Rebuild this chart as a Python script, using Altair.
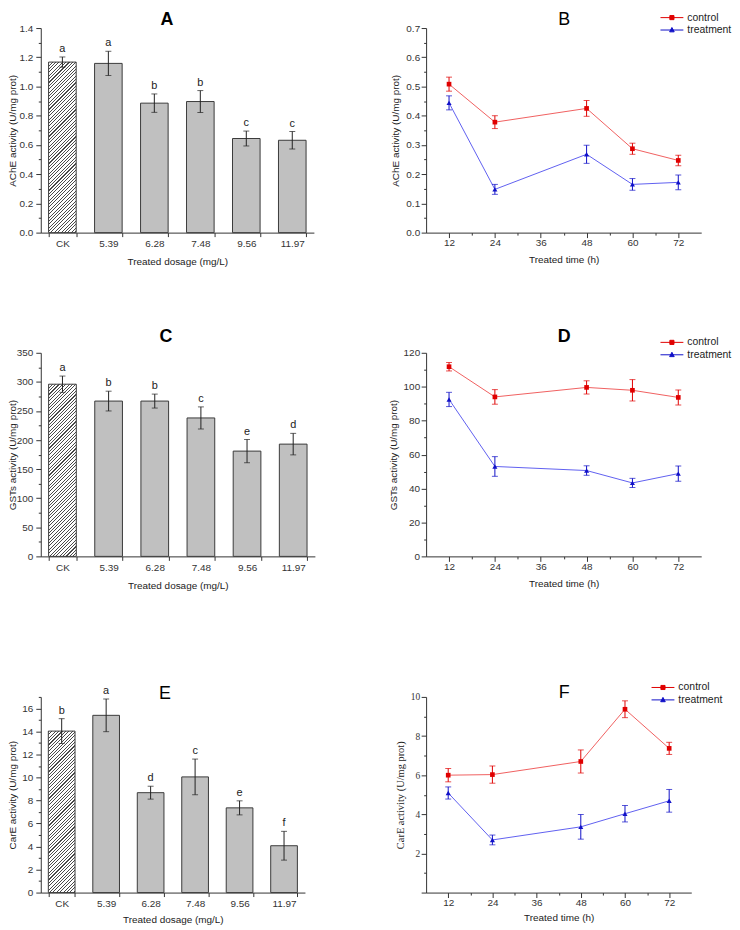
import math
import altair as alt
import pandas as pd

# ---------------- data ----------------
doses = ["CK", "5.39", "6.28", "7.48", "9.56", "11.97"]

ache_dose_mean = [1.167, 1.158, 0.886, 0.897, 0.644, 0.632]
ache_dose_sd = [0.035, 0.083, 0.063, 0.075, 0.051, 0.060]
ache_dose_letters = ["a", "a", "b", "b", "c", "c"]

gst_dose_mean = [296, 267, 267, 238, 181, 193]
gst_dose_sd = [14, 17, 12, 19, 20, 18.5]
gst_dose_letters = ["a", "b", "b", "c", "e", "d"]

care_dose_mean = [14.03, 15.40, 8.68, 10.05, 7.36, 4.07]
care_dose_sd = [1.08, 1.42, 0.56, 1.55, 0.61, 1.25]
care_dose_letters = ["b", "a", "d", "c", "e", "f"]

times = [12, 24, 48, 60, 72]
series_names = ["control", "treatment"]

ache_ctrl = [0.508, 0.378, 0.425, 0.287, 0.247]
ache_ctrl_sd = [0.024, 0.022, 0.027, 0.019, 0.018]
ache_trt = [0.444, 0.148, 0.268, 0.165, 0.172]
ache_trt_sd = [0.024, 0.017, 0.031, 0.020, 0.025]

gst_ctrl = [111.8, 94.0, 99.6, 97.9, 93.7]
gst_ctrl_sd = [2.5, 4.3, 3.9, 6.3, 4.4]
gst_trt = [92.5, 53.0, 50.6, 43.3, 48.8]
gst_trt_sd = [4.2, 5.8, 2.8, 2.7, 4.5]

care_ctrl = [6.00, 6.03, 6.70, 9.37, 7.37]
care_ctrl_sd = [0.34, 0.44, 0.59, 0.43, 0.31]
care_trt = [5.09, 2.69, 3.36, 4.03, 4.69]
care_trt_sd = [0.31, 0.25, 0.63, 0.42, 0.58]

panel_titles = ["A", "B", "C", "D", "E", "F"]

# axis tick values (major + minor)
ache_dose_ticks = [0.0, 0.1, 0.2, 0.3, 0.4, 0.5, 0.6, 0.7, 0.8, 0.9, 1.0, 1.1, 1.2, 1.3, 1.4]
gst_dose_ticks = [0, 25, 50, 75, 100, 125, 150, 175, 200, 225, 250, 275, 300, 325, 350]
care_dose_ticks = [0, 1, 2, 3, 4, 5, 6, 7, 8, 9, 10, 11, 12, 13, 14, 15, 16, 17]
ache_time_ticks = [0.0, 0.05, 0.1, 0.15, 0.2, 0.25, 0.3, 0.35, 0.4, 0.45, 0.5, 0.55, 0.6, 0.65, 0.7]
gst_time_ticks = [0, 10, 20, 30, 40, 50, 60, 70, 80, 90, 100, 110, 120]
care_time_ticks = [0, 1, 2, 3, 4, 5, 6, 7, 8, 9, 10]
time_ticks = [12, 18, 24, 30, 36, 42, 48, 54, 60, 66, 72]

# ---------------- style ----------------
SANS = "Liberation Sans"
SERIF = "Liberation Serif"
HEAVY = "Liberation Sans"
AX = "#333333"
RED = "#e00000"
RED_LINE = "#f06060"
BLUE = "#1010c8"
BLUE_LINE = "#6060f0"

PAD_IN = 0.4
PAD_OUT = 0.17


def major_test(step, hide_zero=False):
    t = f"abs(datum.value / {step} - round(datum.value / {step})) < 0.001"
    if hide_zero:
        t = f"({t}) && datum.value > 0"
    return t


def y_axis(title, step, fmt, font=SANS, hide_zero=False, left=True):
    test = major_test(step, hide_zero)
    plain = major_test(step)
    kw = dict(
        title=title,
        labelExpr=f"({test}) ? format(datum.value, '{fmt}') : ''",
        tickSize={"condition": {"test": plain, "value": 5}, "value": 2.5},
        labelFont=font,
        titleFont=font,
        labelFontSize=10 if font == SANS else 9.5,
        titleFontSize=10 if font == SANS else 10.5,
        labelPadding=3 if left else 1.5,
        titlePadding=1 if left else 5,
        labelOverlap=False,
        labelFlush=False,
    )
    if left:
        kw["minExtent"] = 22
        kw["maxExtent"] = 22
    return kw


def hatch_gradient(w_px, h_px):
    period = 3.4
    dark = 1.1
    total = w_px + h_px
    n = int(math.ceil(total / period))
    c = total / (w_px ** 2 + h_px ** 2)
    stops = []
    last = 0.0
    for i in range(n):
        for pos, col in [(i * period, "#4a4a4a"), (i * period + dark, "#4a4a4a"),
                         (i * period + dark, "#ffffff"), ((i + 1) * period, "#ffffff")]:
            off = round(min(pos / total, 1.0), 4)
            off = max(off, last)
            last = off
            stops.append(alt.GradientStop(offset=off, color=col))
    return alt.LinearGradient(gradient="linear", x1=0, y1=0, x2=round(c * w_px, 5), y2=round(c * h_px, 5),
                              stops=stops)


def title_layer(text, font, weight, tx, ty):
    return alt.Chart(pd.DataFrame({"label": [text]})).mark_text(
        font=font, fontWeight=weight, fontSize=18, color="#000000", align="center", baseline="top"
    ).encode(text="label:N", x=alt.value(tx), y=alt.value(ty))


def bar_panel(mean, sd, letters, ticks, ymax, step, fmt, ytitle, title, title_font, title_weight,
              tx, ty, w, h, xtitle_pad):
    df = pd.DataFrame({
        "dose": doses,
        "mean": mean,
        "lo": [m - s for m, s in zip(mean, sd)],
        "hi": [m + s for m, s in zip(mean, sd)],
        "letter": letters,
    })
    base = alt.Chart(df)
    xax = alt.Axis(title="Treated dosage (mg/L)", labelAngle=0, tickBand="extent", tickSize=4,
                   labelPadding=2, titlePadding=xtitle_pad, labelFont=SANS, titleFont=SANS,
                   labelFontSize=10, titleFontSize=10)
    xs = alt.Scale(paddingInner=PAD_IN, paddingOuter=PAD_OUT)
    ys = alt.Scale(domain=[0, ymax], nice=False, zero=True)
    yax = alt.Axis(values=ticks, **y_axis(ytitle, step, fmt))
    X = alt.X("dose:N", sort=doses, scale=xs, axis=xax)

    step_px = w / (len(doses) - PAD_IN + 2 * PAD_OUT)
    bw = step_px * (1 - PAD_IN)
    ck_h = mean[0] / ymax * h

    bars = base.transform_filter(alt.datum.dose != "CK").mark_bar(
        fill="#c0c0c0", stroke="#3a3a3a", strokeWidth=1
    ).encode(x=X, y=alt.Y("mean:Q", scale=ys, axis=yax))
    ck = base.transform_filter(alt.datum.dose == "CK").mark_bar(
        fill=hatch_gradient(bw, ck_h), stroke="#3a3a3a", strokeWidth=1
    ).encode(x=X, y=alt.Y("mean:Q", scale=ys, axis=yax))
    rule = base.mark_rule(color="#222222", strokeWidth=1).encode(
        x=X, y=alt.Y("lo:Q", scale=ys, axis=yax), y2="hi:Q")
    cap_lo = base.mark_tick(color="#222222", orient="horizontal", size=6, thickness=1).encode(
        x=X, y=alt.Y("lo:Q", scale=ys, axis=yax))
    cap_hi = base.mark_tick(color="#222222", orient="horizontal", size=6, thickness=1).encode(
        x=X, y=alt.Y("hi:Q", scale=ys, axis=yax))
    txt = base.mark_text(font=SANS, fontSize=11, color="#222222", baseline="alphabetic", dy=-5).encode(
        x=X, y=alt.Y("hi:Q", scale=ys, axis=yax), text="letter:N")
    ttl = title_layer(title, title_font, title_weight, tx, ty)

    return alt.layer(bars, ck, rule, cap_lo, cap_hi, txt, ttl).properties(width=w, height=h)


legend_paths = [
    "M-2.5,0H2.5M-0.45,-0.45H0.45V0.45H-0.45Z",
    "M-2.5,0H2.5M0,-0.55L0.5,0.4H-0.5Z",
]


def line_panel(ctrl, ctrl_sd, trt, trt_sd, ticks, ymax, step, fmt, ytitle, yfont, hide_zero,
               title, title_font, title_weight, tx, ty, lx, ly, w, h, xtitle_pad):
    rows = []
    for s, vals, sds in [("control", ctrl, ctrl_sd), ("treatment", trt, trt_sd)]:
        for t, v, e in zip(times, vals, sds):
            rows.append({"series": s, "time": t, "value": v, "lo": v - e, "hi": v + e})
    df = pd.DataFrame(rows)
    base = alt.Chart(df)
    xs = alt.Scale(domain=[6, 78], nice=False, zero=False)
    xax = alt.Axis(title="Treated time (h)", values=time_ticks,
                   labelExpr="datum.value % 12 === 0 ? format(datum.value, 'd') : ''",
                   tickSize={"condition": {"test": "datum.value % 12 === 0", "value": 5}, "value": 2.5},
                   labelPadding=0, titlePadding=xtitle_pad, labelFont=SANS, titleFont=SANS,
                   labelFontSize=10, titleFontSize=10, labelOverlap=False, labelFlush=False)
    ys = alt.Scale(domain=[0, ymax], nice=False, zero=True)
    yax = alt.Axis(values=ticks, **y_axis(ytitle, step, fmt, font=yfont, hide_zero=hide_zero, left=False))
    X = alt.X("time:Q", scale=xs, axis=xax)

    layers = []
    for s, lc, mc, shp, sz in [("control", RED_LINE, RED, "square", 22),
                               ("treatment", BLUE_LINE, BLUE, "triangle-up", 26)]:
        b = base.transform_filter(alt.datum.series == s)
        layers.append(b.mark_line(color=lc, strokeWidth=1).encode(
            x=X, y=alt.Y("value:Q", scale=ys, axis=yax)))
        layers.append(b.mark_rule(color=mc, strokeWidth=1).encode(
            x=X, y=alt.Y("lo:Q", scale=ys, axis=yax), y2="hi:Q"))
        layers.append(b.mark_tick(color=mc, orient="horizontal", size=6, thickness=1).encode(
            x=X, y=alt.Y("lo:Q", scale=ys, axis=yax)))
        layers.append(b.mark_tick(color=mc, orient="horizontal", size=6, thickness=1).encode(
            x=X, y=alt.Y("hi:Q", scale=ys, axis=yax)))
        layers.append(b.mark_point(shape=shp, filled=True, color=mc, size=sz, opacity=1).encode(
            x=X, y=alt.Y("value:Q", scale=ys, axis=yax)))

    leg = alt.Legend(title=None, orient="none", legendX=lx, legendY=ly, symbolSize=85,
                     symbolStrokeWidth=1, labelFont=SANS, labelFontSize=10.5, labelColor="#222222",
                     labelOffset=10, rowPadding=1.5, padding=0)
    dummy = base.transform_filter("false").mark_point(filled=True, opacity=1, strokeWidth=1).encode(
        fill=alt.Fill("series:N", scale=alt.Scale(domain=series_names, range=[RED, BLUE]), legend=leg),
        stroke=alt.Stroke("series:N", scale=alt.Scale(domain=series_names, range=[RED, BLUE]), legend=leg),
        shape=alt.Shape("series:N", scale=alt.Scale(domain=series_names, range=legend_paths), legend=leg),
    )
    layers.append(dummy)
    layers.append(title_layer(title, title_font, title_weight, tx, ty))

    return alt.layer(*layers).properties(width=w, height=h)


def indep(c):
    return c.resolve_scale(fill="independent", stroke="independent", shape="independent").resolve_legend(
        fill="independent", stroke="independent", shape="independent")


pA = bar_panel(ache_dose_mean, ache_dose_sd, ache_dose_letters, ache_dose_ticks, 1.4, 0.2, ".1f",
               "AChE activity (U/mg prot)", panel_titles[0], HEAVY, "bold", 127, -17, 275, 206, 8)
pB = line_panel(ache_ctrl, ache_ctrl_sd, ache_trt, ache_trt_sd, ache_time_ticks, 0.7, 0.1, ".1f",
                "AChE activity (U/mg prot)", SANS, False, panel_titles[1], SANS, "normal", 139, -17,
                242, -16, 277, 206, 7)
pC = bar_panel(gst_dose_mean, gst_dose_sd, gst_dose_letters, gst_dose_ticks, 350, 50, "d",
               "GSTs activity (U/mg prot)", panel_titles[2], HEAVY, "bold", 126, -25, 276, 205, 8)
pD = line_panel(gst_ctrl, gst_ctrl_sd, gst_trt, gst_trt_sd, gst_time_ticks, 120, 20, "d",
                "GSTs activity (U/mg prot)", SANS, False, panel_titles[3], HEAVY, "bold", 139, -25,
                242, -16, 277, 205, 7)
pE = bar_panel(care_dose_mean, care_dose_sd, care_dose_letters, care_dose_ticks, 17, 2, "d",
               "CarE activity (U/mg prot)", panel_titles[4], SANS, "normal", 125, -12, 266, 197, 6)
pF = line_panel(care_ctrl, care_ctrl_sd, care_trt, care_trt_sd, care_time_ticks, 10, 2, "d",
                "CarE activity (U/mg prot)", SERIF, True, panel_titles[5], SANS, "normal", 139, -13,
                233, -15, 267, 197, 5)

row1 = indep(alt.hconcat(pA, pB, spacing=113, bounds="flush"))
row2 = indep(alt.hconcat(pC, pD, spacing=112, bounds="flush"))
row3 = indep(alt.hconcat(pE, pF, spacing=122, bounds="flush"))

chart = indep(alt.vconcat(
    indep(alt.vconcat(row1, row2, spacing=62)),
    row3,
    spacing=92.5,
)).properties(padding=0).configure_view(stroke=None).configure_axis(
    grid=False, domainColor=AX, tickColor=AX, labelColor=AX, titleColor="#222222",
    titleFontWeight="normal", domainWidth=1, tickWidth=1,
).configure_legend(symbolStrokeWidth=1)

chart.save("out.html", embed_options={"renderer": "svg", "actions": False})
